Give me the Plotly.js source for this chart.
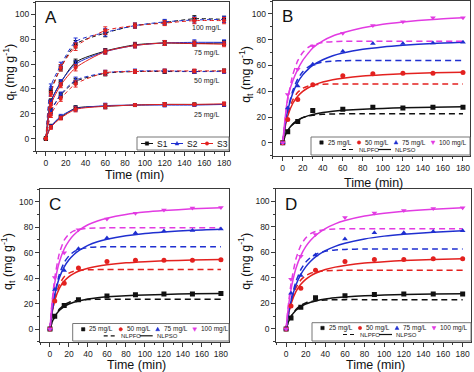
<!DOCTYPE html>
<html><head><meta charset="utf-8">
<script src="https://cdn.plot.ly/plotly-3.0.1.min.js"></script>
<style>html,body{margin:0;padding:0;background:#fff}#chart{width:474px;height:372px}</style>
</head><body><div id="chart"></div>
<script>
// ---------- data ----------
const TIME = [0,5,15,30,60,90,120,150,180];
const FIT_T = [0,2,5,10,15,20,25,30,40,50,60,80,100,120,150,180];
const CONC = ['25 mg/L','50 mg/L','75 mg/L','100 mg/L'];
const SAMPLES = ['S1','S2','S3'];
const MODELS = ['NLPFO','NLPSO'];
const PANELS = ['A','B','C','D'];
const X_TITLE = 'Time (min)';
const Y_TITLE = 'q<sub>t</sub> (mg g<sup>-1</sup>)';

// Panel A: three samples, four concentrations (mean values)
const A_S1_25  = [0,10,17,24.5,26,27,27.5,27.5,27.5];
const A_S2_25  = [0,9.5,18,24,26.5,27,27,27,27.5];
const A_S3_25  = [0,9,16.5,23.5,26,27,27.5,27.5,28];
const A_S1_50  = [0,22,35,46,52.5,54,54,54,54.5];
const A_S2_50  = [0,21,35.5,47,53,54.5,54.5,54,54];
const A_S3_50  = [0,19,32,44,53,54,54.5,54.5,54.5];
const A_S1_75  = [0,30,45,61.5,70.5,75.5,77,76.5,77];
const A_S2_75  = [0,29,45.5,60,70,75,77,77.5,77.5];
const A_S3_75  = [0,27,43,57,70,75,77,76.5,76];
const A_S1_100 = [0,38,57,76,85,91,93.5,96.5,96];
const A_S2_100 = [0,42,59,78,85.5,91,94,95.5,96];
const A_S3_100 = [0,36,57,74,87,91,93,95,95];
// error bars (panel A)
const A_ERR_25  = [0,1.5,1.5,2,2,1,1.5,1,1.5];
const A_ERR_50  = [0,2,2,2.5,2,1.5,1.5,1.5,1.5];
const A_ERR_75  = [0,2,2,2.5,2,2,2,2,2];
const A_ERR_100 = [0,2,2.5,3,3,2,2,2.5,2.5];

// Panel B
const B_25  = [0,8.5,16.5,25,26,27.5,27,27.5,27.5];
const B_50  = [0,18,33.5,45,52,53.5,54,54,54.5];
const B_75  = [0,27,44,61,71,77,77,77.5,78];
const B_100 = [0,37.5,57,75,85,91,94,97,97];
const B_PFO_25  = [0,4.1,8.9,14.2,17.5,19.5,20.7,21.4,22.1,22.4,22.5,22.5,22.5,22.5,22.5,22.5];
const B_PSO_25  = [0,4.8,9.6,14.5,17.5,19.5,20.9,22.0,23.5,24.5,25.2,26.1,26.7,27.2,27.6,27.9];
const B_PFO_50  = [0,10.5,21.8,33.2,39.2,42.3,43.9,44.8,45.5,45.7,45.7,45.7,45.7,45.7,45.7,45.7];
const B_PSO_50  = [0,10.6,20.8,30.5,36.1,39.9,42.5,44.4,47.1,48.9,50.1,51.8,52.8,53.6,54.3,54.8];
const B_PFO_75  = [0,11.6,25.1,40.3,49.6,55.2,58.6,60.6,62.7,63.4,63.7,63.8,63.8,63.8,63.8,63.8];
const B_PSO_75  = [0,12.3,25.1,38.5,46.9,52.7,56.8,60.0,64.4,67.5,69.6,72.5,74.4,75.7,77.1,78.0];
const B_PFO_100 = [0,15.5,33.3,52.6,63.7,70.1,73.8,75.9,77.8,78.5,78.7,78.8,78.8,78.8,78.8,78.8];
const B_PSO_100 = [0,16.0,35.0,48.0,57.0,64.0,69.0,73.5,79.0,82.8,85.3,89.2,92.0,93.8,95.7,97.0];

// Panel C
const C_25  = [0,10,18.5,23,26,27,27.5,27.5,28];
const C_50  = [0,22,36,48,53,54,54,54,54.5];
const C_75  = [0,31,46,63,71.5,75.5,77,77.5,78.5];
const C_100 = [0,40.5,60,78,86.5,91,93.5,95,95.5];
const C_PFO_25  = [0,4.6,9.9,15.7,19.0,20.9,22.0,22.6,23.2,23.4,23.5,23.5,23.5,23.5,23.5,23.5];
const C_PSO_25  = [0,4.9,9.8,14.8,17.7,19.7,21.1,22.1,23.6,24.6,25.3,26.2,26.8,27.2,27.7,27.9];
const C_PFO_50  = [0,11.4,23.5,35.2,41.1,43.9,45.4,46.1,46.6,46.7,46.8,46.8,46.8,46.8,46.8,46.8];
const C_PSO_50  = [0,11.8,22.5,32.2,37.7,41.2,43.6,45.4,47.8,49.4,50.5,52.0,52.9,53.6,54.2,54.7];
const C_PFO_75  = [0,12.7,27.4,43.2,52.3,57.5,60.6,62.3,64.0,64.5,64.6,64.7,64.7,64.7,64.7,64.7];
const C_PSO_75  = [0,13.3,26.7,40.4,48.8,54.4,58.4,61.4,65.7,68.6,70.6,73.3,75.1,76.3,77.6,78.4];
const C_PFO_100 = [0,19.4,40.0,59.9,69.8,74.7,77.1,78.3,79.2,79.4,79.5,79.5,79.5,79.5,79.5,79.5];
const C_PSO_100 = [0,18.4,36.0,53.0,62.9,69.3,73.8,77.2,81.9,84.9,87.1,90.0,91.9,93.1,94.4,95.3];

// Panel D
const D_25  = [0,8.5,17,24.5,26,27,27.5,27.5,27.5];
const D_50  = [0,18,32,46,53,54.5,54.5,55,55];
const D_75  = [0,28,42,58,70.5,75.5,75.5,76.5,77];
const D_100 = [0,39,57,74,87.5,91,93,94.5,95];
const D_PFO_25  = [0,4.5,9.7,15.3,18.6,20.4,21.5,22.2,22.7,22.9,23.0,23.0,23.0,23.0,23.0,23.0];
const D_PSO_25  = [0,4.8,9.6,14.6,17.6,19.6,21.0,22.0,23.5,24.4,25.1,26.0,26.6,27.0,27.4,27.7];
const D_PFO_50  = [0,9.8,20.7,32.2,38.4,41.8,43.7,44.7,45.6,45.9,46.0,46.0,46.0,46.0,46.0,46.0];
const D_PSO_50  = [0,9.8,19.6,29.3,35.0,38.9,41.7,43.7,46.6,48.5,49.8,51.7,52.8,53.6,54.4,55.0];
const D_PFO_75  = [0,10.3,22.7,37.2,46.5,52.4,56.1,58.5,61.0,62.0,62.4,62.7,62.7,62.7,62.7,62.7];
const D_PSO_75  = [0,10.3,21.7,34.5,42.8,48.7,53.1,56.5,61.4,64.8,67.2,70.6,72.8,74.3,75.9,77.0];
const D_PFO_100 = [0,16.7,35.4,54.9,65.6,71.4,74.7,76.5,78.0,78.4,78.6,78.6,78.6,78.6,78.6,78.6];
const D_PSO_100 = [0,15.2,30.9,47.4,57.5,64.5,69.5,73.3,78.7,82.4,85.0,88.5,90.7,92.3,93.9,95.0];

// ---------- tables built from the arrays ----------
const A_DATA = {
  S1: [A_S1_25, A_S1_50, A_S1_75, A_S1_100],
  S2: [A_S2_25, A_S2_50, A_S2_75, A_S2_100],
  S3: [A_S3_25, A_S3_50, A_S3_75, A_S3_100]
};
const A_ERR = [A_ERR_25, A_ERR_50, A_ERR_75, A_ERR_100];
const PANEL_DATA = {
  B: {pts:[B_25,B_50,B_75,B_100], pfo:[B_PFO_25,B_PFO_50,B_PFO_75,B_PFO_100], pso:[B_PSO_25,B_PSO_50,B_PSO_75,B_PSO_100]},
  C: {pts:[C_25,C_50,C_75,C_100], pfo:[C_PFO_25,C_PFO_50,C_PFO_75,C_PFO_100], pso:[C_PSO_25,C_PSO_50,C_PSO_75,C_PSO_100]},
  D: {pts:[D_25,D_50,D_75,D_100], pfo:[D_PFO_25,D_PFO_50,D_PFO_75,D_PFO_100], pso:[D_PSO_25,D_PSO_50,D_PSO_75,D_PSO_100]}
};

// ---------- styles ----------
const W = 474, H = 372;
const FONT = 'Liberation Sans, Arial, Helvetica, sans-serif';
const RED = '#e3211f', BLUE = '#1f2fd0', MAG = '#e23be2', BLK = '#111111';
const A_STYLE = {S1:{c:BLK, s:'square'}, S2:{c:BLUE, s:'triangle-up'}, S3:{c:RED, s:'circle'}};
const C_STYLE = [{c:BLK,s:'square'},{c:RED,s:'circle'},{c:BLUE,s:'triangle-up'},{c:MAG,s:'triangle-down'}];
const A_DASH = ['solid','4px,3px','solid','4px,3px'];

// panel geometry in pixels: left, right, top, bottom, x-range, title positions
const GEO = {
  A:{l:36, r:229, t:2, b:151, xr:[-10,185], ty:174.5, tx:10},
  B:{l:272.7, r:470, t:1, b:155.7, xr:[-10,187], ty:182.5, tx:246.5},
  C:{l:40, r:229, t:189, b:341.8, xr:[-10.5,188.5], ty:365.2, tx:8.5},
  D:{l:276.3, r:471, t:188.7, b:341.7, xr:[-10,188.5], ty:365.2, tx:245.5}
};
const px = x => x / W, py = y => 1 - y / H;

const traces = [];
// Panel A
SAMPLES.forEach(s => {
  CONC.forEach((c, i) => {
    traces.push({
      type:'scatter', mode:'lines+markers', x:TIME, y:A_DATA[s][i],
      xaxis:'x', yaxis:'y', name:s + ' ' + c, showlegend:false,
      line:{color:A_STYLE[s].c, width:1, shape:'spline', smoothing:0.7, dash:A_DASH[i]},
      marker:{color:A_STYLE[s].c, symbol:A_STYLE[s].s, size:4},
      error_y:{type:'data', array:A_ERR[i], visible:true, color:A_STYLE[s].c, thickness:1, width:2}
    });
  });
});
// Panels B, C, D
['B','C','D'].forEach((p, k) => {
  const ax = String(k + 2);
  const d = PANEL_DATA[p];
  CONC.forEach((c, i) => {
    traces.push({type:'scatter', mode:'lines', x:FIT_T, y:d.pfo[i], xaxis:'x'+ax, yaxis:'y'+ax,
      name:'NLPFO ' + c, showlegend:false, line:{color:C_STYLE[i].c, width:1.5, dash:'6px,4px', shape:'spline', smoothing:0.6}});
    traces.push({type:'scatter', mode:'lines', x:FIT_T, y:d.pso[i], xaxis:'x'+ax, yaxis:'y'+ax,
      name:'NLPSO ' + c, showlegend:false, line:{color:C_STYLE[i].c, width:1.5, shape:'spline', smoothing:0.6}});
  });
  CONC.forEach((c, i) => {
    traces.push({type:'scatter', mode:'markers', x:TIME, y:d.pts[i], xaxis:'x'+ax, yaxis:'y'+ax,
      name:c, showlegend:false, marker:{color:C_STYLE[i].c, symbol:C_STYLE[i].s, size:5}});
  });
});

// ---------- layout ----------
const layout = {
  width:W, height:H, margin:{l:0,r:0,t:0,b:0}, paper_bgcolor:'#fff', plot_bgcolor:'#fff',
  showlegend:false, font:{family:FONT, color:'#222'}, annotations:[], shapes:[]
};
function axCommon(){
  return {showline:true, mirror:true, linecolor:'#3a3a3a', linewidth:1, showgrid:false, zeroline:false,
    ticks:'outside', ticklen:4, tickwidth:1, tickcolor:'#3a3a3a', tick0:0, dtick:20,
    minor:{ticks:'outside', ticklen:2, tickwidth:1, tickcolor:'#3a3a3a', dtick:10, tick0:0},
    tickfont:{family:FONT, size:8.5, color:'#222'}, fixedrange:true};
}
PANELS.forEach((p, k) => {
  const g = GEO[p];
  const sfx = k === 0 ? '' : String(k + 1);
  layout['xaxis' + sfx] = Object.assign(axCommon(), {domain:[px(g.l), px(g.r)], range:g.xr, anchor:'y' + sfx});
  layout['yaxis' + sfx] = Object.assign(axCommon(), {domain:[py(g.b), py(g.t)], range:[-10,110], anchor:'x' + sfx});
  layout.annotations.push({xref:'paper', yref:'paper', x:px((g.l + g.r) / 2 + 2), y:py(g.ty), xanchor:'center', yanchor:'middle',
    text:X_TITLE, showarrow:false, font:{family:FONT, size:12.5, color:'#111'}});
  layout.annotations.push({xref:'paper', yref:'paper', x:px(g.tx), y:py((g.t + g.b) / 2 - 4), xanchor:'center', yanchor:'middle',
    text:Y_TITLE, textangle:-90, showarrow:false, font:{family:FONT, size:12.5, color:'#111'}});
  layout.annotations.push({xref:'paper', yref:'paper', x:px(g.l + 7), y:py(g.t + 4), xanchor:'left', yanchor:'top',
    text:p, showarrow:false, font:{family:FONT, size:17, color:'#111'}});
});

// Panel A concentration labels
const A_LABEL_Y = [19, 46.3, 68.7, 88.8];
CONC.forEach((c, i) => {
  layout.annotations.push({xref:'x', yref:'y', x:162, y:A_LABEL_Y[i], text:c, showarrow:false,
    font:{family:FONT, size:7, color:'#222'}});
});

// ---------- legend helpers (drawn as shapes + text) ----------
function box(l, t, r, b){
  layout.shapes.push({type:'rect', xref:'paper', yref:'paper', x0:px(l), x1:px(r), y0:py(b), y1:py(t),
    line:{color:'#777', width:1}, fillcolor:'#fff', layer:'above'});
}
function hline(x0, x1, y, color, dash, w){
  layout.shapes.push({type:'line', xref:'paper', yref:'paper', x0:px(x0), x1:px(x1), y0:py(y), y1:py(y),
    line:{color:color, width:w || 1.2, dash:dash || 'solid'}, layer:'above'});
}
function sym(cx, cy, kind, color, r){
  const base = {xref:'paper', yref:'paper', fillcolor:color, line:{color:color, width:0.5}, layer:'above'};
  if (kind === 'square' || kind === 'circle') {
    layout.shapes.push(Object.assign(base, {type: kind === 'square' ? 'rect' : 'circle',
      x0:px(cx - r), x1:px(cx + r), y0:py(cy + r), y1:py(cy - r)}));
  } else {
    const s = kind === 'triangle-up' ? 1 : -1;
    const path = 'M' + px(cx - r * 1.15) + ',' + py(cy + s * r * 0.85) + ' L' + px(cx + r * 1.15) + ',' + py(cy + s * r * 0.85) +
      ' L' + px(cx) + ',' + py(cy - s * r * 1.2) + ' Z';
    layout.shapes.push(Object.assign(base, {type:'path', path:path}));
  }
}
function txt(x, y, s, color, size){
  layout.annotations.push({xref:'paper', yref:'paper', x:px(x), y:py(y), text:s, showarrow:false,
    xanchor:'left', yanchor:'middle', font:{family:FONT, size:size, color:color}});
}
// Panel A legend
box(137, 137, 229, 150);
const A_LEG_X = [141, 171, 201];
SAMPLES.forEach((s, i) => {
  const x0 = A_LEG_X[i];
  hline(x0, x0 + 12, 143.5, A_STYLE[s].c, 'solid', 1);
  sym(x0 + 6, 143.5, A_STYLE[s].s, A_STYLE[s].c, 1.7);
  txt(x0 + 14, 143.5, s, '#111', 8.5);
});

// Panels B-D legends
const LEG = {
  B:{l:311, t:137, r:470, b:155, r1:142.5, r2:149.5},
  C:{l:72.7, t:323.5, r:229, b:341, r1:329.3, r2:335.8},
  D:{l:312, t:322.7, r:471, b:341, r1:328, r2:334.5}
};
const SYM_OFF = [10.5, 48, 85, 122];
['B','C','D'].forEach(p => {
  const L = LEG[p];
  box(L.l, L.t, L.r, L.b);
  CONC.forEach((c, i) => {
    sym(L.l + SYM_OFF[i], L.r1, C_STYLE[i].s, C_STYLE[i].c, 1.7);
    txt(L.l + SYM_OFF[i] + 4, L.r1, c, '#222', 6.5);
  });
  hline(L.l + 31, L.l + 44, L.r2, BLK, '4px,3px', 1.2);
  txt(L.l + 46, L.r2, MODELS[0], '#222', 6);
  hline(L.l + 67, L.l + 80, L.r2, BLK, 'solid', 1.2);
  txt(L.l + 82, L.r2, MODELS[1], '#222', 6);
});

Plotly.newPlot('chart', traces, layout, {staticPlot:true, displayModeBar:false});
</script>
</body></html>
